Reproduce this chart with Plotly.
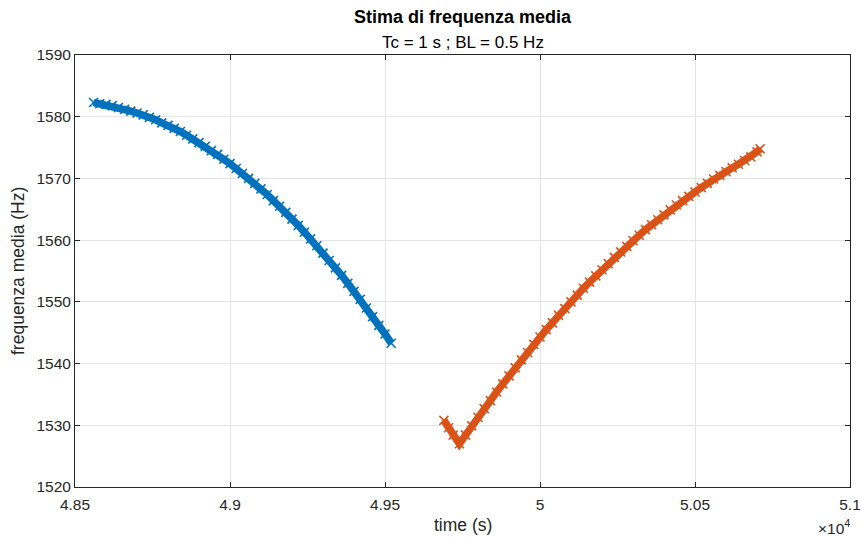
import plotly.graph_objects as go

# ---------------- data ----------------
blue_time = [48560, 48580, 48600, 48620, 48640, 48660, 48680, 48700, 48720, 48740,
             48760, 48780, 48800, 48820, 48840, 48860, 48880, 48900, 48920, 48940,
             48960, 48980, 49000, 49020, 49040, 49060, 49080, 49100, 49120, 49140,
             49160, 49180, 49200, 49220, 49240, 49260, 49280, 49300, 49320, 49340,
             49360, 49380, 49400, 49420, 49440, 49460, 49480, 49500, 49520]
blue_freq = [1582.3, 1582.1, 1582.0, 1581.8, 1581.5, 1581.2, 1580.9, 1580.6, 1580.3, 1579.9,
             1579.5, 1579.0, 1578.6, 1578.1, 1577.6, 1577.0, 1576.4, 1575.8, 1575.2, 1574.5,
             1573.9, 1573.1, 1572.4, 1571.6, 1570.8, 1570.0, 1569.2, 1568.3, 1567.4, 1566.4,
             1565.5, 1564.5, 1563.4, 1562.4, 1561.3, 1560.2, 1559.1, 1557.9, 1556.7, 1555.5,
             1554.3, 1553.0, 1551.7, 1550.4, 1549.0, 1547.6, 1546.2, 1544.8, 1543.3]

orange_time = [49690, 49705, 49720, 49740, 49760, 49780, 49800, 49820, 49840, 49860,
               49880, 49900, 49920, 49940, 49960, 49980, 50000, 50020, 50040, 50060,
               50080, 50100, 50120, 50140, 50160, 50180, 50200, 50220, 50240, 50260,
               50280, 50300, 50320, 50340, 50360, 50380, 50400, 50420, 50440, 50460,
               50480, 50500, 50520, 50540, 50560, 50580, 50600, 50620, 50640, 50660,
               50680, 50700, 50710]
orange_freq = [1530.8, 1529.6, 1528.4, 1527.0, 1528.4, 1529.9, 1531.3, 1532.7, 1534.0, 1535.4,
               1536.7, 1538.0, 1539.3, 1540.6, 1541.8, 1543.1, 1544.3, 1545.5, 1546.6, 1547.8,
               1548.9, 1550.0, 1551.1, 1552.2, 1553.2, 1554.2, 1555.2, 1556.2, 1557.2, 1558.1,
               1559.0, 1559.9, 1560.8, 1561.7, 1562.5, 1563.3, 1564.1, 1564.9, 1565.7, 1566.4,
               1567.1, 1567.8, 1568.5, 1569.2, 1569.9, 1570.5, 1571.1, 1571.7, 1572.3, 1572.9,
               1573.5, 1574.3, 1574.8]

x_tick_vals = [48500, 49000, 49500, 50000, 50500, 51000]
x_tick_text = ["4.85", "4.9", "4.95", "5", "5.05", "5.1"]
y_tick_vals = [1520, 1530, 1540, 1550, 1560, 1570, 1580, 1590]

title_main = "Stima di frequenza media"
title_sub = "Tc = 1 s ; BL = 0.5 Hz"
x_label = "time (s)"
y_label = "frequenza media (Hz)"

# ---------------- style ----------------
BLUE = "#0072BD"
ORANGE = "#D95319"
AX = "#262626"
GRID = "#e3e3e3"
FONT = "Liberation Sans, Arial, Helvetica, sans-serif"

fig = go.Figure()
for t, f, c in [(blue_time, blue_freq, BLUE), (orange_time, orange_freq, ORANGE)]:
    fig.add_trace(go.Scatter(
        x=t, y=f, mode="lines+markers",
        line=dict(color=c, width=7.5),
        marker=dict(symbol="x-thin", size=9, line=dict(color=c, width=1.6)),
        showlegend=False, hoverinfo="x+y",
    ))

axis_common = dict(
    showline=True, linecolor=AX, linewidth=1, mirror="ticks",
    ticks="inside", ticklen=5, tickcolor=AX, tickwidth=1,
    showgrid=True, gridcolor=GRID, gridwidth=1,
    zeroline=False, automargin=False,
    tickfont=dict(family=FONT, size=15.5, color=AX),
)

fig.update_xaxes(range=[48500, 51000], tickvals=x_tick_vals, ticktext=x_tick_text,
                 ticklabelstandoff=3, **axis_common)
fig.update_yaxes(range=[1520, 1590], tickvals=y_tick_vals, **axis_common)

fig.update_layout(
    width=862, height=540,
    margin=dict(l=75, r=12, t=55, b=53, autoexpand=False),
    paper_bgcolor="white", plot_bgcolor="white",
    font=dict(family=FONT, color=AX),
    showlegend=False,
    annotations=[
        dict(text="<b>" + title_main + "</b>", xref="paper", yref="paper",
             x=0.5, y=1, yshift=38, showarrow=False, yanchor="middle",
             font=dict(size=18, color="black")),
        dict(text=title_sub, xref="paper", yref="paper",
             x=0.5, y=1, yshift=13, showarrow=False, yanchor="middle",
             font=dict(size=17, color="black")),
        dict(text=x_label, xref="paper", yref="paper",
             x=0.5, y=0, yshift=-38, showarrow=False, yanchor="middle",
             font=dict(size=17.5, color=AX)),
        dict(text=y_label, xref="paper", yref="paper", textangle=-90,
             x=0, xshift=-57, y=0.5, showarrow=False, xanchor="center",
             font=dict(size=17.5, color=AX)),
        dict(text="\u00d710<sup>4</sup>", xref="paper", yref="paper",
             x=1, xshift=2, y=0, yshift=-40, xanchor="right", yanchor="middle",
             showarrow=False, font=dict(size=15.5, color=AX)),
    ],
)

fig.write_html("out.html", config={"displayModeBar": False},
               post_script="document.body.style.margin='0';document.body.style.overflow='hidden';")
